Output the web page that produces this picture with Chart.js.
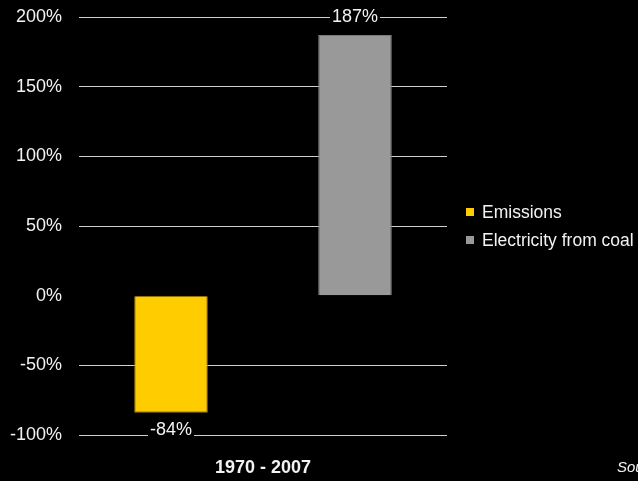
<!DOCTYPE html>
<html>
<head>
<meta charset="utf-8">
<script src="https://cdn.jsdelivr.net/npm/chart.js@4"></script>
<style>
  html, body { margin: 0; padding: 0; background: #000; }
  #chart { display: block; }
</style>
</head>
<body>
<canvas id="chart" width="638" height="481"></canvas>
<script>
// change 1970 - 2007
const categories = ['1970 - 2007'];
const seriesNames = ['Emissions', 'Electricity from coal'];
const emissions = [-84];
const coalPower = [187];
const seriesColors = ['#ffcc00', '#999999'];
const seriesBorders = ['#9a7b00', '#7a7a7a'];
const yMin = -100, yMax = 200, yStep = 50;

const FONT = '"Liberation Sans", Arial, sans-serif';
const TEXT = '#f2f2f2';

// value label above / below each bar, with a black patch behind it
const valueLabels = {
  id: 'valueLabels',
  afterDatasetsDraw(chart) {
    const ctx = chart.ctx;
    ctx.save();
    ctx.font = '18px ' + FONT;
    ctx.textAlign = 'center';
    ctx.textBaseline = 'middle';
    chart.data.datasets.forEach((ds, i) => {
      chart.getDatasetMeta(i).data.forEach((bar, j) => {
        const v = ds.data[j];
        const txt = v + '%';
        const y = v >= 0 ? bar.y - 18 : bar.y + 17;
        const w = ctx.measureText(txt).width + 4;
        ctx.fillStyle = '#000';
        ctx.fillRect(bar.x - w / 2, y - 9, w, 18);
        ctx.fillStyle = TEXT;
        ctx.fillText(txt, bar.x, y);
      });
    });
    ctx.restore();
  }
};

// legend to the right of the plot, one row per dataset
const sideLegend = {
  id: 'sideLegend',
  afterDraw(chart) {
    const ctx = chart.ctx;
    const x = chart.chartArea.right + 19;
    const mid = (chart.chartArea.top + chart.chartArea.bottom) / 2;
    const rowGap = 28;
    const n = chart.data.datasets.length;
    ctx.save();
    ctx.font = '17.5px ' + FONT;
    ctx.textBaseline = 'alphabetic';
    chart.data.datasets.forEach((ds, i) => {
      const cy = mid + (i - (n - 1) / 2) * rowGap;
      ctx.fillStyle = ds.backgroundColor;
      ctx.fillRect(x, cy - 4, 8, 8);
      ctx.fillStyle = TEXT;
      ctx.fillText(ds.label, x + 16, cy + 6);
    });
    ctx.restore();
  }
};

// source note, runs off the right edge
const sourceNote = {
  id: 'sourceNote',
  afterDraw(chart) {
    const ctx = chart.ctx;
    ctx.save();
    ctx.font = 'italic 15px ' + FONT;
    ctx.fillStyle = TEXT;
    ctx.textBaseline = 'alphabetic';
    ctx.fillText('Source', 617, 472);
    ctx.restore();
  }
};

new Chart(document.getElementById('chart'), {
  type: 'bar',
  data: {
    labels: categories,
    datasets: [
      {
        label: seriesNames[0],
        data: emissions,
        backgroundColor: seriesColors[0],
        borderColor: seriesBorders[0],
        borderWidth: 1
      },
      {
        label: seriesNames[1],
        data: coalPower,
        backgroundColor: seriesColors[1],
        borderColor: seriesBorders[1],
        borderWidth: 1
      }
    ]
  },
  options: {
    responsive: false,
    animation: false,
    categoryPercentage: 1.0,
    barPercentage: 0.4,
    layout: { padding: { top: 17, bottom: 0, left: 0, right: 191 } },
    plugins: {
      tooltip: { enabled: false },
      legend: { display: false }
    },
    scales: {
      x: {
        grid: { display: false },
        border: { display: false },
        ticks: {
          color: TEXT,
          padding: 14,
          font: { family: FONT, size: 18, weight: 'bold' }
        },
        afterFit(scale) { scale.height = 46; }
      },
      y: {
        min: yMin,
        max: yMax,
        border: { display: false },
        grid: {
          drawTicks: false,
          color: ctx => ctx.tick && ctx.tick.value === 0 ? 'rgba(0,0,0,0)' : '#d0d0d0'
        },
        ticks: {
          stepSize: yStep,
          color: TEXT,
          padding: 17,
          font: { family: FONT, size: 18 },
          callback: v => v + '%'
        },
        afterFit(scale) {
          scale.width = 79;
          scale.paddingTop = 0;
          scale.paddingBottom = 0;
        }
      }
    }
  },
  plugins: [valueLabels, sideLegend, sourceNote]
});
</script>
</body>
</html>
